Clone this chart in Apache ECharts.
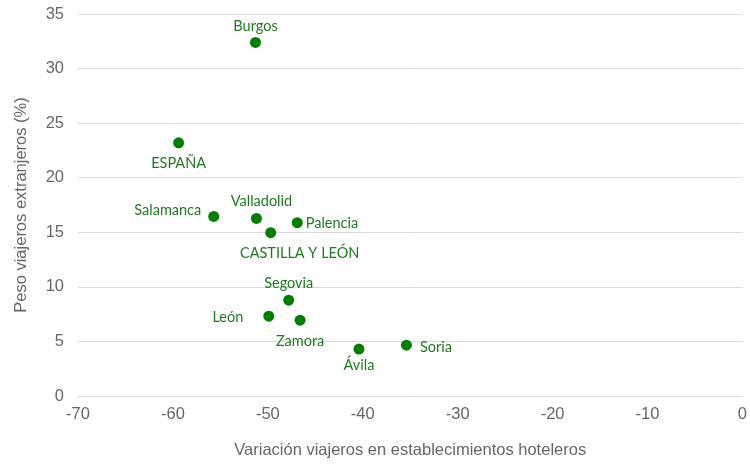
<!DOCTYPE html>
<html><head><meta charset="utf-8">
<script src="https://cdn.jsdelivr.net/npm/echarts@6/dist/echarts.min.js"></script>
<style>html,body{margin:0;padding:0;background:#fff}#c{width:750px;height:464px}</style>
</head><body><div id="c"></div>
<script>
const names = ['Burgos','ESPAÑA','Salamanca','Valladolid','Palencia','CASTILLA Y LEÓN','Segovia','León','Zamora','Ávila','Soria'];
const variacion = [-51.3,-59.4,-55.7,-51.2,-46.9,-49.7,-47.8,-49.9,-46.6,-40.4,-35.4];
const pesoExtranjeros = [32.4,23.2,16.45,16.27,15.88,14.96,8.78,7.31,6.95,4.30,4.66];
const xTicks = [-70,-60,-50,-40,-30,-20,-10,0];
const yTicks = [0,5,10,15,20,25,30,35];

const labelStyle = {
  'Burgos': {position:'top', distance:5, offset:[0,2]},
  'ESPAÑA': {position:'bottom', distance:6, offset:[0,2]},
  'Salamanca': {position:'left', distance:7, offset:[0,-6]},
  'Valladolid': {position:'top', distance:5, offset:[5,1]},
  'Palencia': {position:'right', distance:3, offset:[0,1]},
  'CASTILLA Y LEÓN': {position:'bottom', distance:6, offset:[29,2]},
  'Segovia': {position:'top', distance:5, offset:[0,1]},
  'León': {position:'left', distance:20, offset:[0,1]},
  'Zamora': {position:'bottom', distance:6, offset:[0,2]},
  'Ávila': {position:'bottom', distance:2, offset:[0,1]},
  'Soria': {position:'right', distance:8, offset:[0,2]}
};

const data = names.map((n,i)=>({
  name:n, value:[variacion[i], pesoExtranjeros[i]],
  label: Object.assign({show:true, formatter:n}, labelStyle[n])
}));

const axisFont = {color:'#666666',fontSize:16.5,fontFamily:'Liberation Sans'};
const chart = echarts.init(document.getElementById('c'));
chart.setOption({
  animation:false,
  grid:{left:78,right:7,top:14,bottom:67,containLabel:false},
  xAxis:{type:'value',min:xTicks[0],max:xTicks[xTicks.length-1],interval:10,
    name:'Variación viajeros en establecimientos hoteleros',nameLocation:'middle',nameGap:46,
    nameTextStyle:axisFont,
    axisLine:{show:false},axisTick:{show:false},splitLine:{show:false},
    axisLabel:Object.assign({margin:10},axisFont)},
  yAxis:{type:'value',min:yTicks[0],max:yTicks[yTicks.length-1],interval:5,
    name:'Peso viajeros extranjeros (%)',nameLocation:'middle',nameGap:48,
    nameTextStyle:axisFont,
    axisLine:{show:false},axisTick:{show:false},
    splitLine:{lineStyle:{color:'#d9d9d9',width:1}},
    axisLabel:Object.assign({margin:14},axisFont)},
  series:[{type:'scatter',symbolSize:11,itemStyle:{color:'#008000',opacity:1},
    label:{color:'#1f7a1f',fontSize:14.5,fontFamily:'Lato'},
    emphasis:{disabled:true},
    data:data}]
});
</script></body></html>
